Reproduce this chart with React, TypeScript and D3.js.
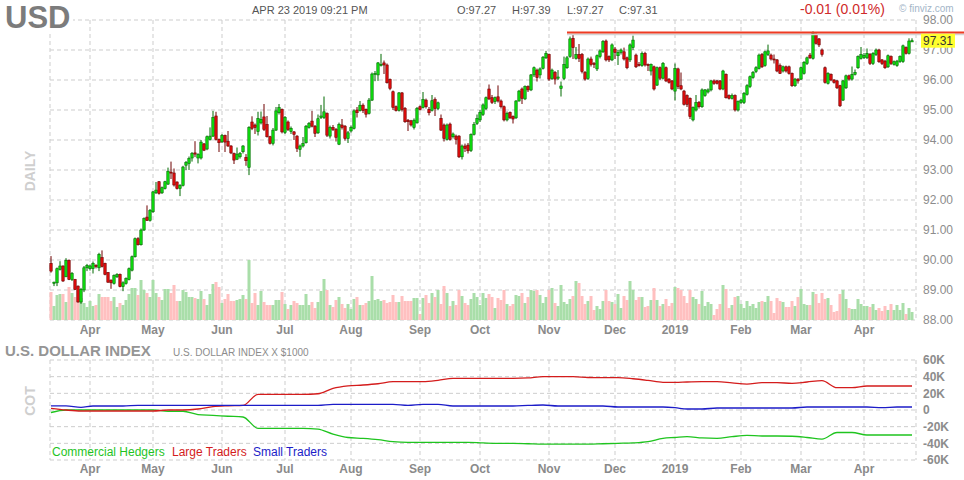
import * as d3 from "d3";
import { useEffect } from "react";

const W = 964;
const H = 480;
const FONT = "Arial, 'Liberation Sans', Helvetica, sans-serif";

// trading calendar: weekdays from Mar 13 2018 to Apr 23 2019, minus these
const holidays = ["2018-03-30", "2018-12-25", "2019-01-01"];

// daily OHLC of the U.S. dollar index
const open = [
  89.89, 89.22, 89.24, 89.69, 89.8, 89.44, 89.99, 89.35, 89.35, 89.13,
  88.6, 89.0, 89.74, 89.71, 89.71, 89.82, 89.74, 90.08, 89.89, 89.58,
  89.33, 89.22, 89.44, 89.52, 89.11, 89.22, 89.35, 89.66, 90.11, 90.71,
  90.51, 91.0, 91.43, 91.32, 91.61, 92.24, 92.61, 92.24, 92.38, 92.53,
  92.93, 92.9, 92.6, 92.38, 92.49, 93.16, 93.22, 93.4, 93.57, 93.4,
  93.4, 93.87, 93.7, 94.02, 94.13, 94.8, 94.02, 93.94, 94.15, 93.96,
  93.8, 93.55, 93.36, 93.44, 93.61, 93.42, 93.09, 94.6, 94.5, 94.28,
  94.57, 94.77, 94.52, 94.11, 93.89, 94.33, 94.91, 95.02, 94.25, 94.6,
  94.28, 94.27, 94.13, 93.69, 93.8, 93.91, 94.42, 94.63, 94.46, 94.24,
  94.75, 94.75, 94.88, 94.13, 94.42, 94.35, 93.86, 94.5, 94.46, 94.05,
  94.3, 94.39, 95.0, 94.98, 95.16, 95.02, 94.89, 95.33, 96.2, 96.17,
  96.5, 96.57, 96.5, 96.02, 95.61, 95.11, 94.99, 95.57, 95.05, 94.66,
  94.64, 94.42, 94.57, 95.11, 95.08, 95.33, 95.02, 94.99, 95.35, 95.05,
  94.72, 94.5, 94.02, 94.53, 94.11, 94.13, 94.13, 93.44, 93.8, 93.83,
  93.65, 94.19, 94.55, 94.67, 94.85, 95.05, 95.7, 95.41, 95.28, 95.44,
  95.3, 95.11, 94.67, 94.92, 94.78, 94.74, 95.3, 95.7, 95.37, 95.78,
  95.67, 96.17, 96.33, 96.17, 96.39, 96.74, 96.85, 96.05, 96.25, 96.06,
  95.72, 96.05, 96.41, 96.78, 97.39, 96.72, 96.85, 96.85, 96.25, 96.05,
  96.7, 96.55, 96.37, 96.78, 96.94, 97.3, 96.78, 96.67, 97.03, 96.81,
  96.92, 96.94, 96.74, 96.67, 97.08, 96.83, 96.52, 96.48, 96.89, 96.52,
  96.3, 96.44, 95.83, 96.41, 96.06, 96.41, 96.03, 95.97, 95.63, 96.37,
  95.81, 95.63, 95.48, 95.39, 94.67, 95.0, 95.25, 95.11, 95.48, 95.6,
  95.67, 95.97, 95.97, 95.97, 95.7, 96.19, 95.48, 95.39, 95.48, 95.0,
  95.25, 95.25, 95.52, 95.78, 96.08, 96.28, 96.39, 96.85, 96.48, 96.85,
  96.83, 96.7, 96.67, 96.48, 96.3, 96.44, 96.44, 96.22, 95.81, 96.03,
  96.03, 96.22, 96.55, 96.83, 96.72, 97.52, 97.37, 97.0, 96.41, 95.89,
  96.19, 96.0, 95.97, 95.81, 95.33, 95.74, 96.14, 96.03, 96.19, 96.41,
  96.72, 96.75, 96.74, 96.85, 96.55, 96.85, 97.0, 96.67, 96.63, 96.44,
  96.78, 96.52, 96.48, 96.61, 96.61, 97.08, 96.89, 97.27,
];
const high = [
  90.13, 89.28, 89.75, 89.96, 89.82, 90.06, 90.02, 89.6, 89.37, 89.15,
  89.07, 89.8, 89.87, 89.85, 89.95, 89.86, 90.24, 90.32, 89.91, 89.6,
  89.35, 89.52, 89.56, 89.55, 89.29, 89.42, 89.75, 90.15, 90.75, 90.76,
  91.05, 91.42, 91.82, 91.7, 92.3, 92.6, 92.63, 92.45, 92.64, 93.08,
  93.28, 93.05, 92.62, 92.53, 93.14, 93.3, 93.45, 93.6, 93.96, 93.56,
  94.0, 93.9, 94.15, 94.42, 94.97, 94.94, 94.05, 94.2, 94.18, 94.3,
  93.83, 93.58, 93.75, 93.6, 93.83, 93.53, 94.46, 94.79, 94.55, 94.94,
  94.95, 95.2, 94.8, 94.14, 94.4, 95.1, 95.2, 95.05, 94.8, 94.65,
  94.45, 94.3, 94.16, 93.85, 94.1, 94.5, 94.6, 94.97, 94.5, 94.85,
  95.17, 95.45, 94.92, 94.48, 94.5, 94.4, 94.58, 94.7, 94.5, 94.3,
  94.48, 95.02, 95.1, 95.3, 95.22, 95.05, 95.4, 96.25, 96.3, 96.6,
  96.87, 96.65, 96.55, 96.05, 95.65, 95.15, 95.6, 95.6, 95.1, 94.7,
  94.67, 94.72, 95.1, 95.15, 95.6, 95.38, 95.1, 95.5, 95.42, 95.28,
  94.85, 94.55, 94.55, 94.58, 94.25, 94.18, 94.16, 93.85, 93.88, 93.9,
  94.22, 94.6, 94.85, 95.0, 95.22, 95.45, 95.85, 95.5, 95.45, 95.82,
  95.35, 95.15, 94.95, 94.95, 94.82, 95.33, 95.67, 95.75, 95.82, 95.82,
  96.2, 96.45, 96.38, 96.42, 96.8, 96.97, 96.88, 96.38, 96.3, 96.33,
  95.95, 96.78, 96.8, 97.45, 97.52, 97.1, 97.2, 96.9, 96.3, 96.75,
  96.78, 96.6, 96.85, 97.02, 97.33, 97.35, 96.82, 97.22, 97.1, 97.0,
  97.05, 97.08, 96.78, 97.22, 97.48, 96.88, 96.6, 96.95, 96.94, 96.55,
  96.55, 96.48, 96.45, 96.45, 96.6, 96.45, 96.06, 96.0, 96.55, 96.41,
  96.25, 95.67, 95.52, 95.42, 95.12, 95.5, 95.3, 95.72, 95.7, 95.72,
  96.0, 96.02, 96.0, 96.0, 96.34, 96.22, 95.52, 95.55, 95.52, 95.32,
  95.37, 95.6, 95.86, 96.15, 96.3, 96.46, 96.88, 96.9, 96.98, 97.18,
  96.88, 96.85, 96.7, 96.55, 96.48, 96.48, 96.48, 96.25, 96.07, 96.06,
  96.45, 96.63, 96.78, 96.9, 97.62, 97.56, 97.4, 97.05, 96.45, 96.26,
  96.22, 96.03, 96.0, 95.84, 96.0, 96.18, 96.18, 96.45, 96.35, 96.82,
  97.1, 96.9, 97.05, 96.9, 96.93, 97.05, 97.04, 96.7, 96.67, 96.85,
  96.82, 96.65, 96.67, 96.82, 97.18, 97.12, 97.39, 97.39,
];
const low = [
  89.58, 89.13, 89.13, 89.65, 89.27, 89.43, 89.33, 89.3, 89.0, 88.58,
  88.54, 88.93, 89.63, 89.65, 89.55, 89.72, 89.63, 89.75, 89.49, 89.24,
  89.04, 89.18, 89.4, 89.09, 88.96, 89.18, 89.32, 89.62, 90.08, 90.48,
  90.48, 90.97, 91.3, 91.28, 91.57, 92.2, 92.18, 92.2, 92.35, 92.5,
  92.7, 92.45, 92.35, 92.13, 92.45, 93.0, 93.0, 93.28, 93.43, 93.22,
  93.35, 93.63, 93.66, 93.98, 94.1, 93.98, 93.6, 93.9, 93.6, 93.77,
  93.53, 93.2, 93.33, 93.38, 93.55, 93.14, 92.83, 94.33, 94.2, 94.15,
  94.52, 94.3, 94.08, 93.85, 93.82, 94.3, 94.85, 94.22, 94.2, 94.3,
  94.2, 94.0, 93.6, 93.44, 93.75, 93.88, 94.38, 94.42, 94.1, 94.2,
  94.7, 94.7, 94.1, 94.05, 94.3, 93.95, 93.83, 94.35, 93.98, 93.9,
  94.25, 94.35, 94.75, 94.95, 94.9, 94.75, 94.85, 95.3, 95.96, 95.97,
  96.45, 96.2, 95.88, 95.66, 95.0, 94.95, 94.95, 94.95, 94.57, 94.3,
  94.45, 94.35, 94.55, 94.98, 95.05, 95.05, 94.82, 94.95, 94.8, 95.0,
  94.3, 93.95, 93.98, 93.98, 94.05, 93.85, 93.4, 93.35, 93.6, 93.55,
  93.6, 94.15, 94.5, 94.6, 94.8, 95.0, 95.33, 95.2, 95.2, 95.25,
  95.05, 94.62, 94.62, 94.7, 94.55, 94.7, 95.28, 95.2, 95.33, 95.6,
  95.63, 96.1, 95.95, 96.05, 96.35, 96.7, 95.97, 96.0, 95.85, 96.0,
  95.45, 96.0, 96.37, 96.74, 96.7, 96.68, 96.6, 96.22, 95.98, 96.0,
  96.45, 96.4, 96.3, 96.72, 96.9, 96.62, 96.6, 96.63, 96.7, 96.5,
  96.85, 96.65, 96.36, 96.6, 97.0, 96.4, 96.45, 96.44, 96.45, 96.3,
  96.15, 95.65, 95.8, 96.0, 96.02, 95.93, 95.88, 95.66, 95.32, 95.7,
  95.66, 95.15, 95.1, 94.7, 94.62, 94.95, 95.05, 95.07, 95.44, 95.55,
  95.62, 95.84, 95.85, 95.66, 95.66, 95.38, 95.35, 95.35, 94.95, 94.95,
  95.2, 95.2, 95.48, 95.73, 96.04, 96.23, 96.35, 96.4, 96.44, 96.8,
  96.65, 96.55, 96.26, 96.2, 96.25, 96.25, 96.18, 95.77, 95.77, 95.88,
  96.0, 96.18, 96.5, 96.7, 96.68, 97.18, 97.1, 96.78, 95.88, 95.85,
  95.96, 95.88, 95.7, 95.1, 95.3, 95.7, 95.98, 95.98, 96.15, 96.37,
  96.68, 96.7, 96.7, 96.5, 96.5, 96.8, 96.57, 96.5, 96.37, 96.4,
  96.5, 96.48, 96.44, 96.57, 96.57, 96.85, 96.85, 97.27,
];
const close = [
  89.63, 89.26, 89.71, 89.8, 89.3, 89.99, 89.35, 89.55, 89.02, 88.6,
  89.02, 89.74, 89.82, 89.8, 89.89, 89.78, 90.19, 89.78, 89.52, 89.26,
  89.24, 89.48, 89.52, 89.11, 89.24, 89.38, 89.71, 90.11, 90.71, 90.51,
  91.0, 91.38, 91.32, 91.65, 92.27, 92.33, 92.22, 92.41, 92.61, 92.96,
  92.9, 92.5, 92.38, 92.49, 93.1, 93.25, 93.38, 93.55, 93.53, 93.52,
  93.93, 93.66, 94.11, 94.13, 94.75, 94.02, 93.91, 94.15, 93.93, 93.8,
  93.57, 93.33, 93.53, 93.55, 93.8, 93.31, 94.42, 94.39, 94.42, 94.72,
  94.69, 94.35, 94.11, 93.89, 94.33, 94.97, 95.08, 94.27, 94.75, 94.35,
  94.39, 94.19, 93.72, 93.8, 93.89, 94.46, 94.55, 94.46, 94.22, 94.71,
  94.8, 94.94, 94.16, 94.42, 94.35, 94.09, 94.52, 94.42, 94.05, 94.24,
  94.42, 94.97, 94.91, 95.16, 94.98, 94.86, 95.33, 96.2, 96.22, 96.57,
  96.52, 96.5, 95.91, 95.72, 95.09, 94.98, 95.57, 95.02, 94.61, 94.61,
  94.5, 94.66, 95.05, 95.02, 95.35, 95.11, 94.91, 95.31, 95.05, 95.24,
  94.33, 94.05, 94.5, 94.02, 94.2, 94.02, 93.44, 93.8, 93.72, 93.64,
  94.18, 94.52, 94.72, 94.92, 95.17, 95.41, 95.37, 95.25, 95.41, 95.3,
  95.11, 94.67, 94.89, 94.74, 94.7, 95.3, 95.63, 95.39, 95.78, 95.67,
  96.17, 96.41, 96.08, 96.37, 96.76, 96.89, 96.03, 96.33, 96.03, 96.1,
  95.8, 96.52, 96.74, 97.37, 97.08, 96.85, 96.72, 96.28, 96.03, 96.7,
  96.52, 96.52, 96.81, 96.97, 97.28, 96.67, 96.67, 97.17, 96.92, 96.92,
  97.0, 96.7, 96.41, 97.17, 97.33, 96.44, 96.48, 96.89, 96.5, 96.48,
  96.52, 95.7, 96.41, 96.06, 96.55, 95.97, 95.92, 95.7, 96.39, 95.78,
  95.7, 95.19, 95.19, 94.78, 95.08, 95.25, 95.11, 95.67, 95.67, 95.67,
  95.97, 95.89, 95.89, 95.7, 96.3, 95.41, 95.39, 95.48, 95.0, 95.28,
  95.33, 95.55, 95.81, 96.11, 96.25, 96.41, 96.83, 96.44, 96.94, 96.97,
  96.7, 96.67, 96.3, 96.22, 96.44, 96.3, 96.22, 95.81, 96.03, 95.97,
  96.41, 96.59, 96.74, 96.74, 97.55, 97.22, 97.17, 96.85, 95.92, 96.22,
  96.0, 95.92, 95.74, 95.14, 95.97, 96.14, 96.03, 96.19, 96.25, 96.78,
  96.85, 96.82, 96.89, 96.55, 96.89, 97.0, 96.61, 96.55, 96.41, 96.81,
  96.55, 96.61, 96.63, 96.78, 97.14, 96.89, 97.3, 97.31,
];
// daily volume, thousands of contracts
const volume = [
  28, 14, 25, 26, 26, 18, 33, 27, 23, 30,
  22, 17, 13, 19, 14, 15, 26, 23, 23, 23,
  19, 23, 13, 17, 15, 20, 26, 32, 32, 25,
  40, 30, 27, 23, 40, 27, 23, 20, 31, 31,
  27, 35, 19, 19, 30, 28, 23, 23, 22, 21,
  29, 21, 15, 26, 36, 38, 33, 17, 21, 26,
  19, 19, 20, 21, 25, 21, 60, 17, 27, 15,
  29, 18, 15, 15, 15, 20, 20, 28, 16, 11,
  15, 19, 17, 15, 15, 26, 15, 18, 12, 18,
  29, 41, 30, 15, 13, 20, 23, 16, 12, 16,
  11, 21, 23, 15, 15, 17, 19, 44, 20, 21,
  19, 20, 17, 18, 25, 18, 18, 24, 19, 19,
  19, 22, 22, 6, 22, 25, 17, 27, 23, 30,
  16, 34, 27, 14, 19, 15, 30, 24, 17, 15,
  21, 27, 23, 15, 27, 22, 26, 23, 12, 22,
  20, 30, 16, 14, 16, 25, 24, 27, 17, 23,
  30, 29, 30, 25, 17, 23, 30, 32, 17, 14,
  35, 18, 16, 21, 24, 39, 37, 24, 16, 19,
  24, 10, 14, 11, 19, 30, 19, 18, 16, 26,
  12, 24, 20, 39, 30, 20, 23, 23, 13, 14,
  20, 32, 20, 14, 16, 21, 14, 17, 33, 32,
  30, 24, 17, 30, 23, 21, 16, 29, 14, 18,
  16, 5, 11, 16, 35, 31, 12, 15, 23, 24,
  16, 12, 19, 14, 16, 12, 18, 19, 18, 24,
  19, 7, 22, 19, 18, 13, 13, 19, 14, 23,
  31, 16, 15, 15, 28, 26, 17, 27, 21, 22,
  15, 8, 9, 26, 30, 21, 12, 11, 11, 21,
  16, 14, 14, 13, 16, 10, 12, 9, 14, 10,
  16, 10, 15, 10, 17, 6, 12, 8,
];

// weekly COT net positions (thousands), one value per Tuesday from Mar 13 2018
const commercialHedgers = [
  -3, 0, 0, 0, 0, 0, 0, 0, -1.5, -1.5,
  -5.5, -6.4, -7.5, -8.4, -22, -22, -22, -22, -23, -29,
  -33, -34, -35.5, -38, -38.8, -38.8, -38.8, -38.8, -38.8, -39.5,
  -40, -40, -40.5, -41, -41, -41, -41, -40.5, -40, -39.5,
  -38, -34, -33, -32, -33.5, -34, -32, -30.5, -31.2, -31.2,
  -31.5, -33, -35, -27, -27, -30, -30, -30, -30,
];
const largeTraders = [
  2, 0, -1.2, -1.2, -1.2, -1.2, -1.2, -1.2, 0, 0,
  1.2, 4, 5, 5.5, 18.8, 18.8, 18.8, 18.8, 19.5, 26,
  29, 30, 31.5, 34, 34, 34, 35.5, 38, 38, 38,
  38, 38, 38.5, 40, 40, 40, 39, 38.8, 38.8, 37.5,
  35.5, 33.2, 33.2, 33.6, 34, 34, 32.5, 31, 32.8, 32.8,
  32, 33.6, 35.2, 26.8, 26.8, 28.8, 28.8, 28.8, 28.8,
];
const smallTraders = [
  5, 5, 3.2, 4.8, 4.8, 4.8, 5.6, 5.6, 5.6, 5.6,
  5.6, 5.6, 5.6, 5.6, 5.6, 5.6, 5.6, 5.6, 5.6, 6.8,
  6.8, 6.8, 6.8, 6.8, 5.6, 6.8, 6.8, 4.8, 4.8, 4.8,
  4.8, 4.8, 5.5, 6, 4.8, 4.8, 4.8, 4.8, 3.6, 3.6,
  3.6, 3.6, 2.8, 1.2, 1.2, 2.4, 2.4, 2.4, 2.4, 2.4,
  2.4, 3.6, 3.6, 3.6, 3.6, 3.6, 2.8, 3.6, 3.6,
];

const cotSeries = [
  { name: "Commercial Hedgers", values: commercialHedgers, color: "#1fc41f" },
  { name: "Large Traders", values: largeTraders, color: "#d41c1c" },
  { name: "Small Traders", values: smallTraders, color: "#1c1cc8" },
];

const resistanceStart = "2018-11-09";
const resistanceLevel = 97.58;
const lastChange = "-0.01 (0.01%)";
const stamp = "APR 23 2019 09:21 PM";

const keyFmt = d3.timeFormat("%Y-%m-%d");
const days = d3
  .timeDay.range(new Date(2018, 2, 13), new Date(2019, 3, 24))
  .filter((d) => d.getDay() % 6 !== 0 && !holidays.includes(keyFmt(d)));
const cotDates = d3.timeTuesday.range(new Date(2018, 2, 13), new Date(2019, 3, 24));

const n = close.length;
const x = d3.scaleLinear().domain([0, n - 1]).range([51, 912]);
const yP = d3.scaleLinear().domain([88, 98]).range([320, 20]);
const yV = d3.scaleLinear().domain([0, 60]).range([320, 260]);
const yC = d3.scaleLinear().domain([-60, 60]).range([460, 360]);
const L = 50;
const R = 916;

const dayIndex = (d: Date) => Math.min(n - 1, d3.bisector((t: Date) => t).left(days, d));
const months = days
  .map((d, i) => ({ d, i }))
  .filter(({ d, i }) => i > 0 && d.getMonth() !== days[i - 1].getMonth());
const monthLabel = (d: Date) => (d.getMonth() === 0 ? d3.timeFormat("%Y")(d) : d3.timeFormat("%b")(d));

const GRID = "#cdcdcd";
const DASH = "4 3";

export default function App() {
  useEffect(() => {
    document.body.style.margin = "0";
  }, []);

  const cotX = cotDates.map((d) => x(dayIndex(d)));
  const cotLine = (vals: number[]) =>
    d3
      .line<number>()
      .x((_, k) => cotX[k])
      .y((v) => yC(v))
      .curve(d3.curveMonotoneX)(vals) ?? "";

  const resX = x(dayIndex(d3.timeParse("%Y-%m-%d")(resistanceStart) as Date));
  const last = n - 1;

  return (
    <svg width={W} height={H} viewBox={`0 0 ${W} ${H}`} style={{ display: "block", background: "#fff", fontFamily: FONT }}>
      {/* price panel grid */}
      {yP.ticks(10).map((t) => (
        <line key={"hp" + t} x1={L} x2={R} y1={yP(t)} y2={yP(t)} stroke={GRID} strokeDasharray={DASH} />
      ))}
      {[L, R].map((gx) => (
        <line key={"bp" + gx} x1={gx} x2={gx} y1={20} y2={320} stroke={GRID} strokeDasharray={DASH} />
      ))}
      {months.map(({ i }) => (
        <line key={"vp" + i} x1={x(i)} x2={x(i)} y1={20} y2={320} stroke={GRID} strokeDasharray={DASH} />
      ))}

      {/* volume */}
      {volume.map((v, i) => (
        <rect
          key={"v" + i}
          x={x(i) - 1.5}
          width={3}
          y={yV(v)}
          height={yV(0) - yV(v)}
          fill={close[i] >= open[i] ? "#a9dea9" : "#ffc0c0"}
        />
      ))}

      {/* candles */}
      {close.map((c, i) => {
        const up = c >= open[i];
        const dark = up ? "#006a00" : "#6e0000";
        const top = yP(Math.max(open[i], c));
        const bot = yP(Math.min(open[i], c));
        return (
          <g key={"c" + i}>
            <line x1={x(i)} x2={x(i)} y1={yP(high[i])} y2={yP(low[i])} stroke={dark} strokeWidth={1} />
            <rect
              x={x(i) - 1.2}
              width={2.4}
              y={top}
              height={Math.max(1, bot - top)}
              fill={up ? "#0fe00f" : "#e00d0d"}
              stroke={dark}
              strokeWidth={0.6}
            />
          </g>
        );
      })}

      {/* resistance line */}
      <line x1={resX} x2={W} y1={yP(resistanceLevel) + 1.8} y2={yP(resistanceLevel) + 1.8} stroke="#d4d4d4" strokeWidth={1.6} />
      <line x1={resX} x2={W} y1={yP(resistanceLevel)} y2={yP(resistanceLevel)} stroke="#ef3b22" strokeWidth={2} />

      {/* price axis */}
      {yP.ticks(10).map((t) => (
        <text key={"pl" + t} x={923} y={yP(t)} dy="0.35em" fontSize={12} fill="#8c8c8c">
          {d3.format(".2f")(t)}
        </text>
      ))}
      <rect x={921} y={yP(close[last]) - 7} width={34} height={14} fill="#ffff2e" />
      <text x={923} y={yP(close[last])} dy="0.35em" fontSize={12} fill="#333">
        {d3.format(".2f")(close[last])}
      </text>

      {/* month labels */}
      {months.map(({ d, i }) => (
        <text key={"ml" + i} x={x(i)} y={334} textAnchor="middle" fontSize={12} fontWeight="bold" fill="#8a8a8a">
          {monthLabel(d)}
        </text>
      ))}

      {/* header */}
      <rect x={0} y={0} width={73} height={31} fill="#fff" />
      <text x={5} y={28} fontSize={31} fontWeight="bold" fill="#7c7c7c">
        USD
      </text>
      <text x={252} y={14} fontSize={11} fill="#555">
        {stamp}
      </text>
      {[
        ["O", open[last]],
        ["H", high[last]],
        ["L", low[last]],
        ["C", close[last]],
      ].map(([k, v], j) => (
        <text key={"ohlc" + j} x={457 + [0, 55, 110, 162][j]} y={14} fontSize={11} fill="#555">
          {`${k}:${d3.format(".2f")(v as number)}`}
        </text>
      ))}
      <text x={800} y={14} fontSize={14} fill="#cf2a2a">
        {lastChange}
      </text>
      <text x={899} y={12} fontSize={10} fill="#a3b5c8">
        © finviz.com
      </text>
      <text transform="translate(35,171) rotate(-90)" textAnchor="middle" fontSize={14} fontWeight="bold" fill="#cfcfcf">
        DAILY
      </text>

      {/* COT panel */}
      <text x={5} y={356} fontSize={15} fontWeight="bold" fill="#959595">
        U.S. DOLLAR INDEX
      </text>
      <text x={173} y={356} fontSize={10} fill="#8c8c8c">
        U.S. DOLLAR INDEX X $1000
      </text>
      {yC.ticks(6).map((t) => (
        <line key={"hc" + t} x1={L} x2={R} y1={yC(t)} y2={yC(t)} stroke={GRID} strokeDasharray={DASH} />
      ))}
      {[L, R].map((gx) => (
        <line key={"bc" + gx} x1={gx} x2={gx} y1={360} y2={460} stroke={GRID} strokeDasharray={DASH} />
      ))}
      {months.map(({ i }) => (
        <line key={"vc" + i} x1={x(i)} x2={x(i)} y1={360} y2={460} stroke={GRID} strokeDasharray={DASH} />
      ))}
      {cotSeries.map((s) => (
        <path key={s.name} d={cotLine(s.values)} fill="none" stroke={s.color} strokeWidth={1.3} />
      ))}
      {yC.ticks(6).map((t) => (
        <text key={"cl" + t} x={923} y={yC(t)} dy="0.35em" fontSize={12} fontWeight="bold" fill="#8c8c8c">
          {t === 0 ? "0" : `${t}K`}
        </text>
      ))}
      <text transform="translate(35,401) rotate(-90)" textAnchor="middle" fontSize={14} fontWeight="bold" fill="#cfcfcf">
        COT
      </text>
      {cotSeries.map((s, j) => (
        <text key={"lg" + j} x={[52, 172, 253][j]} y={456} fontSize={12} fill={s.color}>
          {s.name}
        </text>
      ))}
      {months.map(({ d, i }) => (
        <text key={"mc" + i} x={x(i)} y={473} textAnchor="middle" fontSize={12} fontWeight="bold" fill="#8a8a8a">
          {monthLabel(d)}
        </text>
      ))}
    </svg>
  );
}
